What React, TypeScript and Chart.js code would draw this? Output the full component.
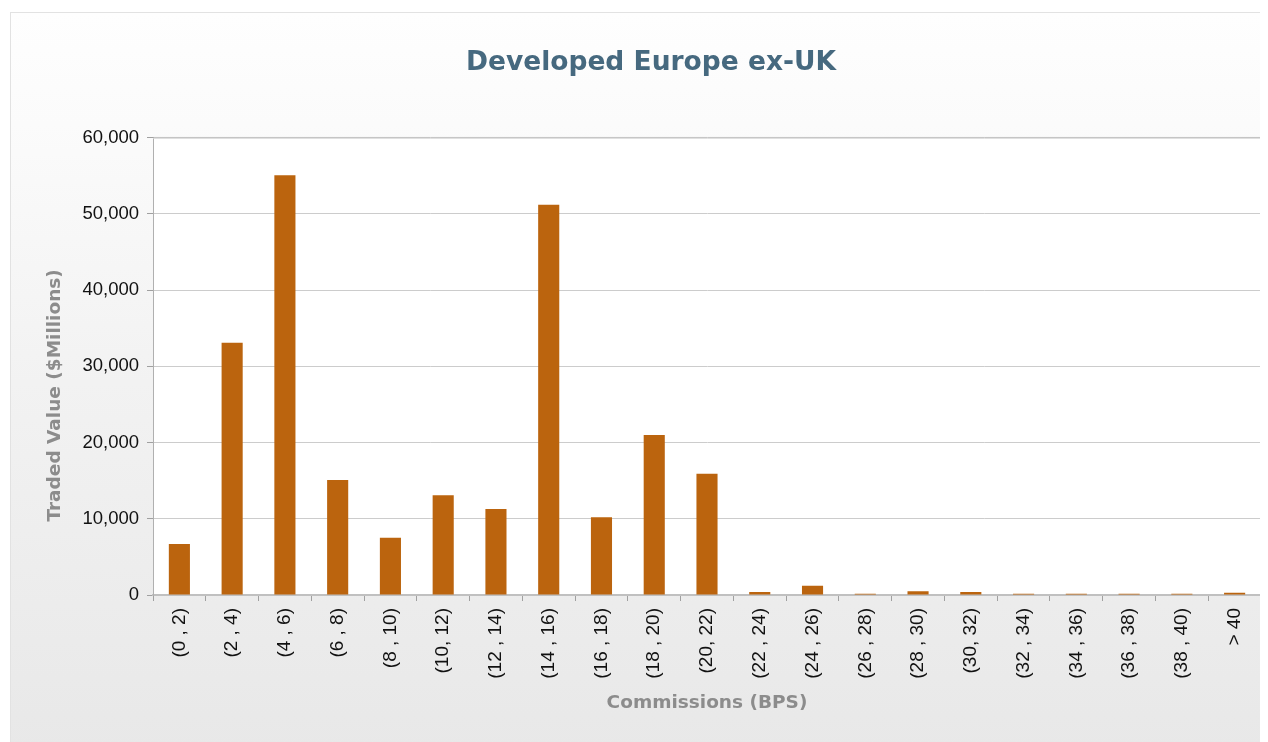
import React, { useEffect, useRef } from "react";
import { Chart, registerables } from "chart.js";

Chart.register(...registerables);

const categories = [
  "(0 , 2)", "(2 , 4)", "(4 , 6)", "(6 , 8)", "(8 , 10)", "(10, 12)", "(12 , 14)",
  "(14 , 16)", "(16 , 18)", "(18 , 20)", "(20, 22)", "(22 , 24)", "(24 , 26)",
  "(26 , 28)", "(28 , 30)", "(30, 32)", "(32 , 34)", "(34 , 36)", "(36 , 38)",
  "(38 , 40)", "> 40",
];

const tradedValues = [
  6700, 33100, 55100, 15100, 7500, 13100, 11300, 51200, 10200, 21000, 15900,
  400, 1200, 150, 500, 400, 150, 150, 150, 150, 280,
];

const yTickValues = [0, 10000, 20000, 30000, 40000, 50000, 60000];

const chartTitle = "Developed Europe ex-UK";
const yAxisTitle = "Traded Value ($Millions)";
const xAxisTitle = "Commissions (BPS)";

const axisTitleFont = "bold 18.5px 'DejaVu Sans'";
const axisTitleColor = "#8c8c8c";

const plotDecor = {
  id: "plotDecor",
  beforeDraw(chart: any) {
    const { ctx, chartArea } = chart;
    if (!chartArea) return;
    ctx.save();
    ctx.fillStyle = "#ffffff";
    ctx.fillRect(chartArea.left, chartArea.top, chartArea.right - chartArea.left, chartArea.bottom - chartArea.top);
    ctx.restore();
  },
  afterDraw(chart: any) {
    const { ctx, chartArea } = chart;
    ctx.save();
    ctx.strokeStyle = "#d8d8d8";
    ctx.lineWidth = 1;
    ctx.beginPath();
    ctx.moveTo(chartArea.left, chartArea.top + 0.5);
    ctx.lineTo(chartArea.right + 0.5, chartArea.top + 0.5);
    ctx.lineTo(chartArea.right + 0.5, chartArea.bottom);
    ctx.stroke();
    ctx.strokeStyle = "rgba(0,0,0,0.06)";
    ctx.beginPath();
    ctx.moveTo(chartArea.left, chartArea.top - 0.5);
    ctx.lineTo(chartArea.right + 1.5, chartArea.top - 0.5);
    ctx.moveTo(chartArea.right + 1.5, chartArea.top);
    ctx.lineTo(chartArea.right + 1.5, chartArea.bottom);
    ctx.stroke();
    ctx.restore();

    // y-axis title, placed slightly below the plot's vertical middle as in the reference
    ctx.save();
    ctx.font = axisTitleFont;
    ctx.fillStyle = axisTitleColor;
    ctx.textAlign = "center";
    ctx.textBaseline = "middle";
    ctx.translate(44, (chartArea.top + chartArea.bottom) / 2 + 29);
    ctx.rotate(-Math.PI / 2);
    ctx.fillText(yAxisTitle, 0, 0);
    ctx.restore();
  },
};

export default function App() {
  const canvasRef = useRef<HTMLCanvasElement | null>(null);

  useEffect(() => {
    if (!canvasRef.current) return;
    const chart = new Chart(canvasRef.current, {
      type: "bar",
      data: {
        labels: categories,
        datasets: [
          {
            label: "Traded Value",
            data: tradedValues,
            backgroundColor: "#bb640e",
            borderWidth: 0,
            barPercentage: 0.4,
            categoryPercentage: 1.0,
          },
        ],
      },
      options: {
        animation: false,
        responsive: false,
        maintainAspectRatio: false,
        layout: { padding: { left: 30, right: 25, top: 20, bottom: 30 } },
        plugins: {
          legend: { display: false },
          tooltip: { enabled: false },
          title: {
            display: true,
            text: chartTitle,
            color: "#46697f",
            font: { family: "'DejaVu Sans'", size: 26.5, weight: "bold" },
            padding: { top: 14, bottom: 59 },
          },
        },
        scales: {
          x: {
            offset: true,
            grid: {
              display: true,
              drawOnChartArea: false,
              drawTicks: true,
              tickLength: 6,
              color: "#a0a0a0",
              offset: true,
            },
            border: { display: true, color: "#c0c0c0", width: 2 },
            ticks: {
              color: "#111111",
              font: { family: "'Liberation Sans'", size: 19 },
              minRotation: 90,
              maxRotation: 90,
              autoSkip: false,
              padding: 7,
            },
            title: {
              display: true,
              text: xAxisTitle,
              color: axisTitleColor,
              font: { family: "'DejaVu Sans'", size: 18.5, weight: "bold" },
              padding: { top: 0, bottom: 8 },
            },
            afterFit(scale: any) {
              scale.height = 127;
            },
          },
          y: {
            min: 0,
            max: 60000,
            afterBuildTicks(scale: any) {
              scale.ticks = yTickValues.map((v) => ({ value: v }));
            },
            grid: {
              color: "#cccccc",
              tickLength: 6,
              tickColor: "#a0a0a0",
            },
            border: { display: true, color: "#b0b0b0", width: 1 },
            ticks: {
              color: "#111111",
              font: { family: "'Liberation Sans'", size: 18.5 },
              padding: 8,
              callback: (v: any) => Number(v).toLocaleString("en-US"),
            },
            title: { display: false },
            afterFit(scale: any) {
              scale.width = 112;
            },
          },
        },
      },
      plugins: [plotDecor],
    });
    return () => chart.destroy();
  }, []);

  return (
    <div style={{ width: 1260, height: 734, overflow: "hidden", position: "relative" }}>
      <div
        style={{
          position: "absolute",
          left: 2,
          top: 4,
          width: 1276,
          height: 740,
          borderTop: "1px solid #e2e2e2",
          borderLeft: "1px solid #e2e2e2",
          boxSizing: "border-box",
          background: "linear-gradient(to bottom, #fefefe 0%, #fbfbfb 15%, #f2f2f2 50%, #e8e8e8 100%)",
        }}
      >
        <canvas ref={canvasRef} width={1275} height={739} style={{ display: "block" }} />
      </div>
    </div>
  );
}
